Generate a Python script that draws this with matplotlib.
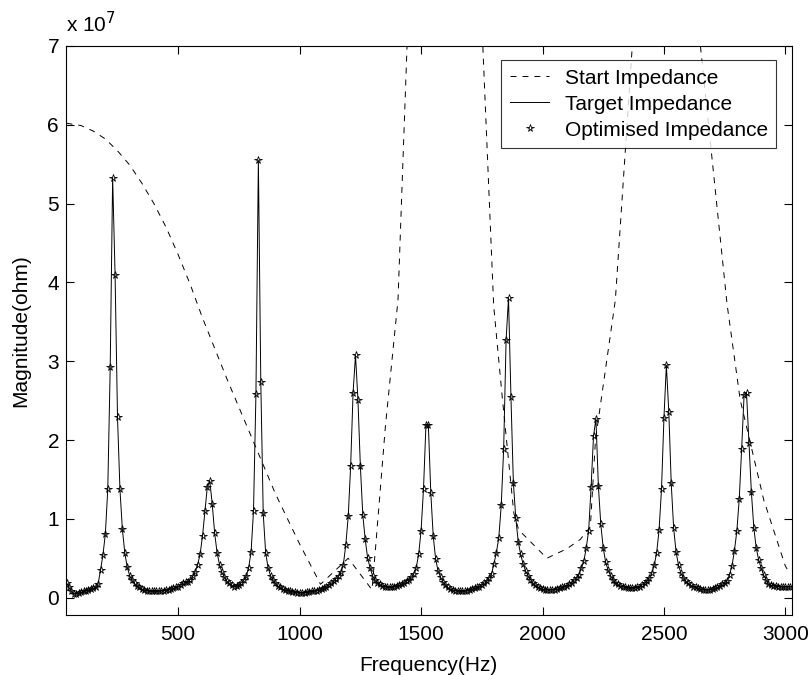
import numpy as np
import matplotlib.pyplot as plt

plt.rcParams['font.family'] = ['Liberation Sans', 'DejaVu Sans']
plt.rcParams['lines.scale_dashes'] = False

# frequency grid of the measured / optimised impedance (Hz)
freq = np.arange(40, 3030, 10)

# target impedance magnitude, units of 1e7 ohm (one value per 10 Hz, 40..3020)
target = [
    0.19, 0.13, 0.08, 0.05, 0.05, 0.06, 0.07, 0.08, 0.09, 0.10,   # 40-130
    0.11, 0.12, 0.13, 0.17, 0.35, 0.54, 0.81, 1.38, 2.93, 5.33,   # 140-230
    4.10, 2.29, 1.38, 0.87, 0.57, 0.39, 0.28, 0.22, 0.18, 0.15,   # 240-330
    0.13, 0.11, 0.10, 0.09, 0.08, 0.08, 0.08, 0.08, 0.08, 0.09,   # 340-430
    0.09, 0.10, 0.10, 0.11, 0.12, 0.13, 0.14, 0.16, 0.18, 0.20,   # 440-530
    0.20, 0.23, 0.27, 0.33, 0.42, 0.55, 0.78, 1.10, 1.41, 1.48,   # 540-630
    1.19, 0.82, 0.57, 0.42, 0.32, 0.26, 0.21, 0.18, 0.16, 0.14,   # 640-730
    0.15, 0.16, 0.19, 0.22, 0.27, 0.38, 0.58, 1.10, 2.58, 5.55,   # 740-830
    2.74, 1.07, 0.57, 0.38, 0.28, 0.22, 0.18, 0.15, 0.13, 0.11,   # 840-930
    0.10, 0.09, 0.08, 0.07, 0.07, 0.06, 0.06, 0.06, 0.06, 0.07,   # 940-1030
    0.07, 0.08, 0.08, 0.09, 0.10, 0.11, 0.12, 0.14, 0.16, 0.18,   # 1040-1130
    0.21, 0.24, 0.27, 0.32, 0.42, 0.67, 1.03, 1.67, 2.60, 3.08,   # 1140-1230
    2.51, 1.67, 1.05, 0.74, 0.50, 0.38, 0.28, 0.22, 0.19, 0.17,   # 1240-1330
    0.15, 0.14, 0.13, 0.13, 0.13, 0.14, 0.15, 0.16, 0.17, 0.19,   # 1340-1430
    0.21, 0.23, 0.26, 0.30, 0.38, 0.55, 0.85, 1.38, 2.19, 2.19,   # 1440-1530
    1.33, 0.78, 0.49, 0.34, 0.26, 0.20, 0.16, 0.13, 0.11, 0.10,   # 1540-1630
    0.09, 0.08, 0.08, 0.08, 0.08, 0.09, 0.10, 0.11, 0.12, 0.13,   # 1640-1730
    0.14, 0.16, 0.18, 0.21, 0.25, 0.30, 0.43, 0.57, 0.76, 1.17,   # 1740-1830
    1.88, 3.27, 3.80, 2.55, 1.46, 1.01, 0.71, 0.55, 0.43, 0.34,   # 1840-1930
    0.28, 0.23, 0.19, 0.16, 0.14, 0.12, 0.11, 0.10, 0.10, 0.10,   # 1940-2030
    0.10, 0.10, 0.11, 0.12, 0.13, 0.14, 0.15, 0.17, 0.19, 0.22,   # 2040-2130
    0.25, 0.29, 0.38, 0.46, 0.63, 0.85, 1.40, 2.05, 2.27, 1.42,   # 2140-2230
    0.93, 0.63, 0.45, 0.35, 0.28, 0.23, 0.19, 0.17, 0.15, 0.14,   # 2240-2330
    0.13, 0.12, 0.12, 0.12, 0.12, 0.13, 0.14, 0.16, 0.18, 0.21,   # 2340-2430
    0.25, 0.31, 0.41, 0.57, 0.86, 1.38, 2.28, 2.95, 2.36, 1.45,   # 2440-2530
    0.88, 0.58, 0.41, 0.31, 0.25, 0.21, 0.18, 0.16, 0.14, 0.13,   # 2540-2630
    0.12, 0.11, 0.10, 0.10, 0.10, 0.10, 0.11, 0.12, 0.13, 0.15,   # 2640-2730
    0.17, 0.19, 0.21, 0.29, 0.40, 0.59, 0.84, 1.25, 1.89, 2.57,   # 2740-2830
    2.60, 1.96, 1.34, 0.89, 0.63, 0.48, 0.38, 0.29, 0.23, 0.17,   # 2840-2930
    0.16, 0.15, 0.15, 0.14, 0.14, 0.14, 0.14, 0.14, 0.14,         # 2940-3020
]
# optimised impedance sits on top of the target
optimised = list(target)

# start impedance (dashed), units of 1e7 ohm
start_f = [40, 100, 150, 200, 250, 300, 350, 400, 450, 500, 550, 600,
           700, 800, 900, 1000, 1086, 1200, 1298, 1312, 1353, 1405, 1500,
           1700, 1799, 1834, 1882, 1902, 2018, 2100, 2156, 2197, 2218, 2300,
           2400, 2600, 2760, 2814, 2911, 3000, 3020]
start_v = [6.02, 5.99, 5.92, 5.82, 5.67, 5.49, 5.26, 5.00, 4.70, 4.35, 3.97, 3.55,
           2.78, 2.05, 1.32, 0.68, 0.17, 0.50, 0.10, 0.61, 2.17, 3.78, 12.0,
           11.0, 3.70, 2.55, 1.07, 0.86, 0.50, 0.62, 0.74, 0.90, 2.00, 3.78,
           8.4, 8.5, 3.72, 2.51, 1.24, 0.40, 0.30]

fs = 15

fig = plt.figure(figsize=(8.09, 6.75), dpi=100)
ax = fig.add_axes([0.0816, 0.0889, 0.8970, 0.8430])

ax.plot(start_f, start_v, 'k--', lw=0.7, dashes=(4.3, 4.3), label='Start Impedance')
ax.plot(freq, target, 'k-', lw=0.7, label='Target Impedance')
ax.plot(freq, optimised, ls='none', marker='*', ms=5.5, mfc='none', mec='k',
        mew=0.6, label='Optimised Impedance')

ax.set_xlim(38, 3026)
ax.set_ylim(-0.22, 7)
ax.set_xticks([500, 1000, 1500, 2000, 2500, 3000])
ax.set_yticks(range(0, 8))
ax.tick_params(direction='in', top=True, right=True, labelsize=fs, length=6)
ax.tick_params(axis='x', pad=7.5)
ax.tick_params(axis='y', pad=5)
ax.set_xlabel('Frequency(Hz)', fontsize=fs, labelpad=8)
ax.set_ylabel('Magnitude(ohm)', fontsize=fs, labelpad=12)
ax.text(0.0, 1.018, r'x 10$^7$', transform=ax.transAxes, fontsize=fs, va='bottom')

leg = ax.legend(loc='upper right', bbox_to_anchor=(0.979, 0.975), borderaxespad=0,
                fontsize=fs, frameon=True, fancybox=False, edgecolor='k',
                borderpad=0.4, handlelength=1.9, handletextpad=0.75,
                labelspacing=0.34)
leg.get_frame().set_linewidth(0.8)

fig.savefig('out.png', dpi=100)
